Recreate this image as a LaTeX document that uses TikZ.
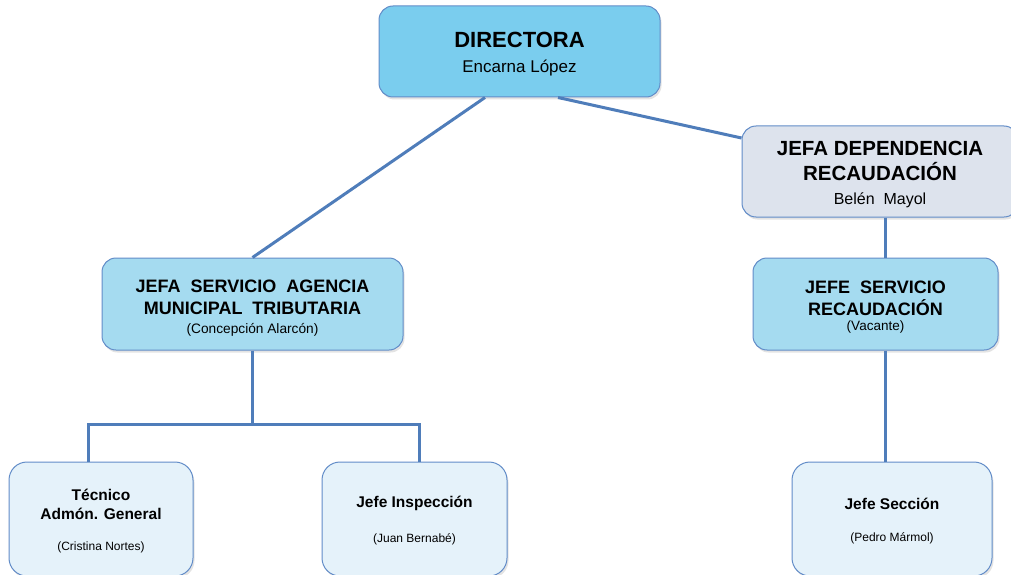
\documentclass[tikz,border=0pt]{standalone}
\usepackage{fontspec}
\setmainfont{Liberation Sans}
\usetikzlibrary{shadows}
\definecolor{bordc}{RGB}{98,140,200}
\definecolor{linec}{RGB}{79,125,186}
\definecolor{dirfill}{RGB}{122,205,238}
\definecolor{depfill}{RGB}{221,227,237}
\definecolor{midfill}{RGB}{165,219,240}
\definecolor{leaffill}{RGB}{229,242,250}
\newcommand{\fsz}[2]{\fontsize{#1}{#2}\selectfont}
\newcommand{\lift}[1]{\rule{0pt}{#1}}
\begin{document}
\begin{tikzpicture}[x=1pt,y=-1pt,
  box/.style={draw=bordc, line width=1pt, rounded corners=14pt, align=center, inner sep=0pt,
    drop shadow={shadow xshift=1.5pt, shadow yshift=-2.5pt, opacity=0.22}},
  topbox/.style={box, fill=dirfill, minimum width=281pt, minimum height=91pt},
  depbox/.style={box, fill=depfill, minimum width=276pt, minimum height=91pt},
  midbox/.style={box, fill=midfill, minimum height=92pt},
  leafbox/.style={box, fill=leaffill, rounded corners=18pt, minimum height=114pt},
  conn/.style={draw=linec, line width=3pt}]
\useasboundingbox (0,0) rectangle (1011,575);
\clip (0,0) rectangle (1011,575);
% boxes
\node[topbox, font=\fsz{22}{25}] (dir) at (519.5,51.5)
  {\lift{19.6pt}{\bfseries DIRECTORA}\\{\fsz{17}{19}Encarna López}};
\node[depbox, font=\fsz{20.5}{25}] (dep) at (880,171.5)
  {\lift{20.7pt}{\bfseries JEFA DEPENDENCIA}\\{\bfseries RECAUDACIÓN}\\[-1pt]{\fsz{16}{19}Belén\ \ Mayol}};
\node[midbox, minimum width=301pt, font=\fsz{18}{22}] (agen) at (252.5,304)
  {\lift{19.9pt}{\bfseries JEFA\ \ SERVICIO\ \ AGENCIA}\\{\bfseries MUNICIPAL\ \ TRIBUTARIA}\\[-3pt]{\fsz{13.7}{15}(Concepción Alarcón)}};
\node[midbox, minimum width=245pt, font=\fsz{18}{22}] (rec) at (875.5,304)
  {\lift{18.1pt}{\bfseries JEFE\ \ SERVICIO}\\{\bfseries RECAUDACIÓN}\\[-7pt]{\fsz{13.5}{15}(Vacante)}};
\node[leafbox, minimum width=184pt, font=\fsz{15.5}{19}] (tec) at (101,519)
  {\lift{15.3pt}{\bfseries Técnico}\\{\bfseries Admón. General}\\[12pt]{\fsz{12}{14}(Cristina Nortes)}};
\node[leafbox, minimum width=185pt, font=\fsz{15.5}{19}] (insp) at (414.5,519)
  {\lift{14.5pt}{\bfseries Jefe Inspección}\\[16pt]{\fsz{12}{14}(Juan Bernabé)}};
\node[leafbox, minimum width=200pt, font=\fsz{15.5}{19}] (sec) at (892,519)
  {\lift{14.5pt}{\bfseries Jefe Sección}\\[13pt]{\fsz{12}{14}(Pedro Mármol)}};
% connectors
\coordinate (j) at (252.5,424);
\draw[conn] ([xshift=-34.5pt]dir.south) -- (agen.north);
\draw[conn] ([xshift=38.5pt]dir.south) -- ([yshift=33.5pt]dep.west);
\draw[conn] ([xshift=5pt]dep.south) -- ([xshift=9.5pt]rec.north);
\draw[conn] ([xshift=9.5pt]rec.south) -- ([xshift=-7pt]sec.north);
\draw[conn] (agen.south) -- (j);
\draw[conn] ([xshift=-13pt]tec.north) |- (j) -| ([xshift=4.5pt]insp.north);
\end{tikzpicture}
\end{document}
